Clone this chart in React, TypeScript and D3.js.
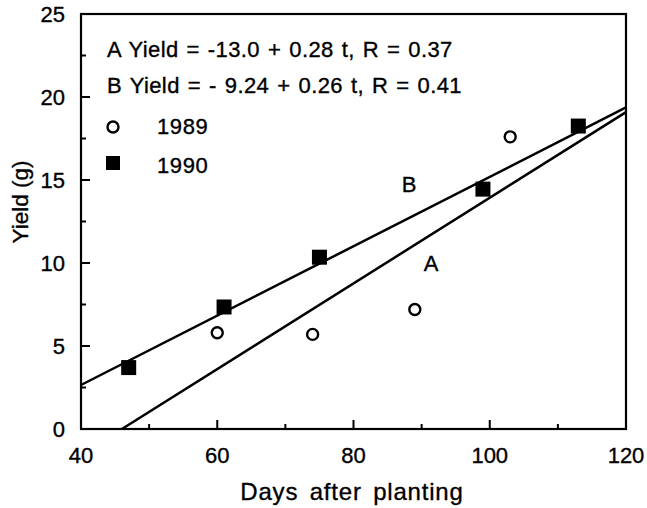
import React from "react";
import * as d3 from "d3";

const days1989 = [60, 74, 89, 103];
const yield1989 = [5.8, 5.7, 7.2, 17.6];
const days1990 = [47, 61, 75, 99, 113];
const yield1990 = [3.7, 7.35, 10.35, 14.45, 18.25];
// fitted lines as drawn: [intercept, slope]
const lineA = [-11.87, 0.258];
const lineB = [-5.71, 0.209];
const xTicks = [40, 60, 80, 100, 120];
const yTicks = [0, 5, 10, 15, 20, 25];
const xMinor = [50, 70, 90, 110];
const yMinor = [2.5, 7.5, 12.5, 17.5, 22.5];
const eqA = "A Yield = -13.0 + 0.28 t, R = 0.37";
const eqB = "B Yield = - 9.24 + 0.26 t, R = 0.41";

const W = 647, H = 508;
const L = 81, R = 626, T = 14, B = 429;
const FONT = "'Liberation Sans', Arial, Helvetica, sans-serif";

const txt = { fill: "#000", stroke: "#000", strokeWidth: 0.35 } as const;

export default function App() {
  const x = d3.scaleLinear().domain([40, 120]).range([L, R]);
  const y = d3.scaleLinear().domain([0, 25]).range([B, T]);

  const clipLine = (p: number[]) => {
    const x0 = Math.max(40, -p[0] / p[1]);
    const x1 = 120;
    return d3.line<number>().x((d) => x(d)).y((d) => y(p[0] + p[1] * d))([x0, x1]) as string;
  };

  return (
    <div style={{ position: "fixed", left: 0, top: 0 }}>
      <svg width={W} height={H} style={{ display: "block", background: "#fff" }} fontFamily={FONT}>
        <rect x={0} y={0} width={W} height={H} fill="#fff" />
        <path d={clipLine(lineA)} stroke="#000" strokeWidth={2.5} fill="none" />
        <path d={clipLine(lineB)} stroke="#000" strokeWidth={2.5} fill="none" />
        <rect x={L} y={T} width={R - L} height={B - T} fill="none" stroke="#000" strokeWidth={2.2} />
        {xTicks.map((t) => (
          <g key={"xt" + t}>
            <line x1={x(t)} x2={x(t)} y1={B} y2={B - 9} stroke="#000" strokeWidth={2} />
            <text x={x(t)} y={463} fontSize={22} textAnchor="middle" {...txt}>{t}</text>
          </g>
        ))}
        {xMinor.map((t) => (
          <line key={"xm" + t} x1={x(t)} x2={x(t)} y1={B} y2={B - 5} stroke="#000" strokeWidth={2} />
        ))}
        {yTicks.map((t) => (
          <g key={"yt" + t}>
            <line x1={L} x2={L + 9} y1={y(t)} y2={y(t)} stroke="#000" strokeWidth={2} />
            <text x={65} y={y(t) + 8} fontSize={22} textAnchor="end" {...txt}>{t}</text>
          </g>
        ))}
        {yMinor.map((t) => (
          <line key={"ym" + t} x1={L} x2={L + 5} y1={y(t)} y2={y(t)} stroke="#000" strokeWidth={2} />
        ))}
        <text x={352} y={500} fontSize={24} textAnchor="middle" letterSpacing={0.8} wordSpacing={4} {...txt}>Days after planting</text>
        <text transform={`translate(28,202) rotate(-90)`} fontSize={22.5} textAnchor="middle" {...txt}>Yield (g)</text>
        <text x={107} y={57} fontSize={22} letterSpacing={0.4} wordSpacing={1.5} {...txt}>{eqA}</text>
        <text x={107} y={93} fontSize={22} letterSpacing={0.4} wordSpacing={1.5} {...txt}>{eqB}</text>
        <circle cx={113} cy={127} r={5.5} fill="#fff" stroke="#000" strokeWidth={2.4} />
        <text x={157} y={134} fontSize={22} letterSpacing={0.6} {...txt}>1989</text>
        <rect x={106} y={156} width={14} height={14} fill="#000" />
        <text x={157} y={173} fontSize={22} letterSpacing={0.6} {...txt}>1990</text>
        <text x={409} y={192} fontSize={22} textAnchor="middle" {...txt}>B</text>
        <text x={431} y={271} fontSize={22} textAnchor="middle" {...txt}>A</text>
        {days1989.map((d, i) => (
          <circle key={"c" + i} cx={x(d)} cy={y(yield1989[i])} r={5.5} fill="#fff" stroke="#000" strokeWidth={2.4} />
        ))}
        {days1990.map((d, i) => (
          <rect key={"s" + i} x={x(d) - 7.5} y={y(yield1990[i]) - 7.5} width={15} height={15} fill="#000" />
        ))}
      </svg>
    </div>
  );
}
